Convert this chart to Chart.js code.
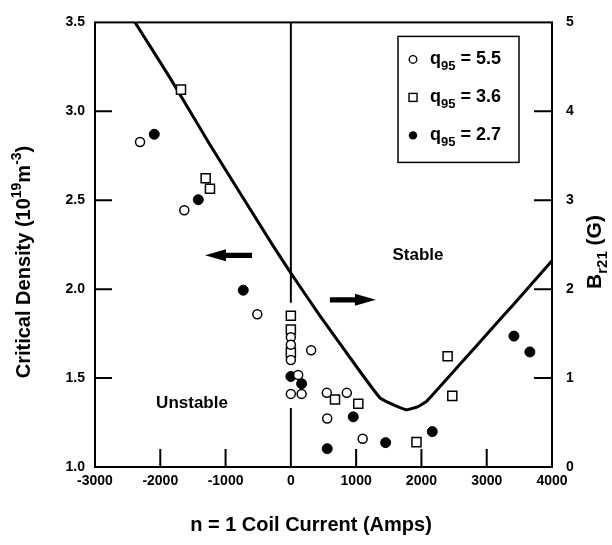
<!DOCTYPE html>
<html><head><meta charset="utf-8">
<script src="https://cdn.jsdelivr.net/npm/chart.js@4.4.0/dist/chart.umd.min.js"></script>
<style>html,body{margin:0;padding:0;background:#fff}</style>
</head><body>
<canvas id="c" width="612" height="545"></canvas>
<script>
// ---- data ----
const xTicks = [-3000, -2000, -1000, 0, 1000, 2000, 3000, 4000];
const yTicks = [1.0, 1.5, 2.0, 2.5, 3.0, 3.5];
const y2Ticks = [0, 1, 2, 3, 4, 5];

const q55 = [[-2310,2.827],[-1632,2.444],[-514,1.859],[0,1.73],[0,1.688],[0,1.601],[112,1.518],[0,1.411],[165,1.411],[311,1.656],[551,1.417],[857,1.417],[557,1.273],[1100,1.159]];
const q36 = [[-1683,3.122],[-1305,2.624],[-1239,2.565],[0,1.85],[0,1.773],[0,1.643],[676,1.38],[1033,1.356],[1924,1.14],[2401,1.623],[2473,1.40]];
const q27 = [[-2092,2.871],[-1418,2.503],[-729,1.994],[0,1.509],[165,1.468],[956,1.282],[557,1.103],[1452,1.137],[2166,1.199],[3417,1.736],[3661,1.647]];
const boundary = [[-2387,3.5],[-1851,3.188],[-1239,2.812],[-274,2.245],[0,2.09],[446,1.85],[1059,1.537],[1365,1.389],[1600,1.345],[1774,1.322],[1950,1.34],[2080,1.37],[2590,1.578],[3100,1.787],[3407,1.913],[4000,2.16]];
const zeroLine = [[0,3.5],[0,1.924],[0,null],[0,1.332],[0,1.0]];
const arrows = [[-595,-1315,2.19],[598,1303,1.94]];
const regionLabels = [['Stable',1947,2.19],['Unstable',-1514,1.36]];
const legendItems = [['circle','5.5'],['rect','3.6'],['dot','2.7']];

const FF = '"Liberation Sans", Arial, Helvetica, sans-serif';
const toPts = a => a.map(p => ({x:p[0], y:p[1]}));

function richText(ctx, segs, x, y, rot, align) {
  ctx.save();
  ctx.translate(x, y);
  ctx.rotate(rot);
  let total = 0;
  const ws = segs.map(s => { ctx.font = 'bold ' + s[1] + 'px ' + FF; const w = ctx.measureText(s[0]).width; total += w; return w; });
  let cx = align === 'left' ? 0 : -total / 2;
  ctx.textAlign = 'left';
  ctx.textBaseline = 'alphabetic';
  ctx.fillStyle = '#000';
  segs.forEach((s, i) => { ctx.font = 'bold ' + s[1] + 'px ' + FF; ctx.fillText(s[0], cx, s[2]); cx += ws[i]; });
  ctx.restore();
}

const decor = {
  id: 'decor',
  beforeDraw(chart) {
    const ctx = chart.ctx;
    ctx.save(); ctx.fillStyle = '#fff'; ctx.fillRect(0, 0, chart.width, chart.height); ctx.restore();
  },
  afterDatasetsDraw(chart) {
    const ctx = chart.ctx, a = chart.chartArea;
    const sx = chart.scales.x, sy = chart.scales.y, sy2 = chart.scales.y2;
    ctx.save();
    ctx.strokeStyle = '#000'; ctx.fillStyle = '#000';
    // frame
    ctx.lineWidth = 2;
    ctx.strokeRect(a.left, a.top, a.right - a.left, a.bottom - a.top);
    // inward ticks
    ctx.lineWidth = 2;
    ctx.beginPath();
    xTicks.slice(1, -1).forEach(v => { if (v === 0) return; const px = sx.getPixelForValue(v); ctx.moveTo(px, a.bottom); ctx.lineTo(px, a.bottom - 18); });
    yTicks.slice(1, -1).forEach(v => { const py = sy.getPixelForValue(v); ctx.moveTo(a.left, py); ctx.lineTo(a.left + 17, py); });
    y2Ticks.slice(1, -1).forEach(v => { const py = sy2.getPixelForValue(v); ctx.moveTo(a.right, py); ctx.lineTo(a.right - 18, py); });
    ctx.stroke();
    // arrows
    arrows.forEach(ar => {
      const x0 = sx.getPixelForValue(ar[0]), x1 = sx.getPixelForValue(ar[1]), y = sy.getPixelForValue(ar[2]);
      const d = Math.sign(x1 - x0), hl = 21, hh = 6, st = 2.6;
      ctx.beginPath();
      ctx.moveTo(x0, y - st);
      ctx.lineTo(x1 - d * hl, y - st);
      ctx.lineTo(x1 - d * hl, y - hh);
      ctx.lineTo(x1, y);
      ctx.lineTo(x1 - d * hl, y + hh);
      ctx.lineTo(x1 - d * hl, y + st);
      ctx.lineTo(x0, y + st);
      ctx.closePath();
      ctx.fill();
    });
    // region labels
    ctx.font = 'bold 17px ' + FF;
    ctx.textAlign = 'center'; ctx.textBaseline = 'middle';
    regionLabels.forEach(l => ctx.fillText(l[0], sx.getPixelForValue(l[1]), sy.getPixelForValue(l[2])));
    // legend
    const bx = a.right - 154, by = a.top + 14, bw = 121, bh = 126;
    ctx.fillStyle = '#fff'; ctx.fillRect(bx, by, bw, bh); ctx.fillStyle = '#000';
    ctx.lineWidth = 1.5;
    ctx.strokeRect(bx, by, bw, bh);
    legendItems.forEach((it, i) => {
      const my = by + 23 + i * 38, mx = bx + 15;
      ctx.lineWidth = 1.4;
      if (it[0] === 'circle') { ctx.beginPath(); ctx.arc(mx, my, 3.8, 0, Math.PI * 2); ctx.stroke(); }
      else if (it[0] === 'rect') { ctx.strokeRect(mx - 4, my - 4, 8, 8); }
      else { ctx.beginPath(); ctx.arc(mx, my, 4.2, 0, Math.PI * 2); ctx.fill(); }
      richText(ctx, [['q', 18, 0], ['95', 13, 6], [' = ' + it[1], 18, 0]], bx + 32, my + 5, 0, 'left');
    });
    ctx.restore();
  },
  afterDraw(chart) {
    const ctx = chart.ctx;
    richText(ctx, [['n = 1 Coil Current (Amps)', 20, 0]], 311, 531, 0);
    richText(ctx, [['Critical Density (10', 20, 0], ['19', 14, -9], ['m', 20, 0], ['-3', 14, -9], [')', 20, 0]], 30, 262, -Math.PI / 2);
    richText(ctx, [['B', 21, 0], ['r21', 15, 6], [' (G)', 21, 0]], 601, 252, -Math.PI / 2);
  }
};

const tickFont = { family: FF, size: 14, weight: 'bold' };
new Chart(document.getElementById('c'), {
  type: 'scatter',
  data: {
    datasets: [
      { data: toPts(boundary), showLine: true, borderColor: '#000', borderWidth: 3, pointRadius: 0, tension: 0.1, fill: false, order: 5 },
      { data: toPts(zeroLine), showLine: true, spanGaps: false, borderColor: '#000', borderWidth: 2, pointRadius: 0, tension: 0, fill: false, order: 6 },
      { data: toPts(q55), pointStyle: 'circle', pointRadius: 4.5, borderWidth: 1.5, borderColor: '#000', backgroundColor: '#fff', order: 1 },
      { data: toPts(q36), pointStyle: 'rect', pointRadius: 6.4, borderWidth: 1.5, borderColor: '#000', backgroundColor: '#fff', order: 2 },
      { data: toPts(q27), pointStyle: 'circle', pointRadius: 5, borderWidth: 1, borderColor: '#000', backgroundColor: '#000', order: 3 },
      { data: [], yAxisID: 'y2' }
    ]
  },
  options: {
    responsive: false, animation: false, devicePixelRatio: 1,
    layout: { padding: { top: 15, left: 0, right: 0, bottom: 0 } },
    plugins: { legend: { display: false }, tooltip: { enabled: false } },
    scales: {
      x: {
        type: 'linear', min: -3000, max: 4000,
        afterBuildTicks: s => { s.ticks = xTicks.map(v => ({ value: v })); },
        afterFit: s => { s.height = 78; },
        grid: { display: false, drawTicks: false }, border: { display: false },
        ticks: { padding: 6, color: '#000', font: tickFont, maxRotation: 0, autoSkip: false, callback: v => String(v) }
      },
      y: {
        position: 'left', min: 1, max: 3.5,
        afterBuildTicks: s => { s.ticks = yTicks.map(v => ({ value: v })); },
        afterFit: s => { s.width = 95; },
        grid: { display: false, drawTicks: false }, border: { display: false },
        ticks: { padding: 10, color: '#000', font: tickFont, autoSkip: false, callback: v => Number(v).toFixed(1) }
      },
      y2: {
        position: 'right', min: 0, max: 5,
        afterBuildTicks: s => { s.ticks = y2Ticks.map(v => ({ value: v })); },
        afterFit: s => { s.width = 60; },
        grid: { display: false, drawTicks: false }, border: { display: false },
        ticks: { padding: 14, color: '#000', font: tickFont, autoSkip: false, callback: v => String(v) }
      }
    }
  },
  plugins: [decor]
});
</script>
</body></html>
